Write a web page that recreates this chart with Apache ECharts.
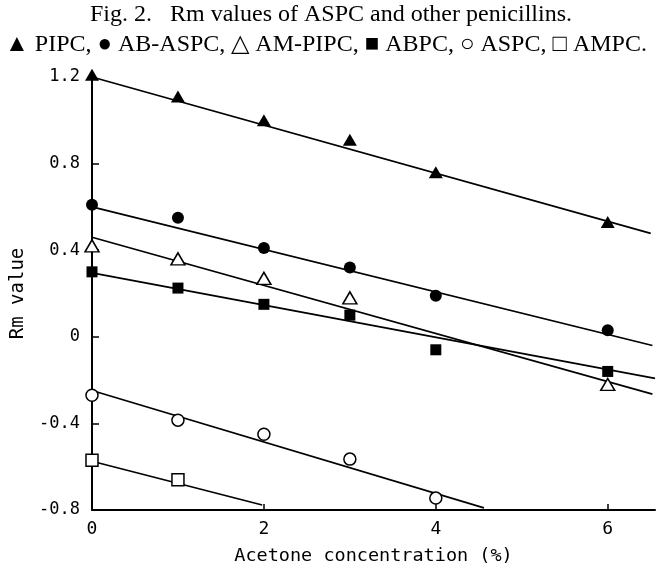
<!DOCTYPE html>
<html>
<head>
<meta charset="utf-8">
<script src="https://cdn.jsdelivr.net/npm/echarts@6/dist/echarts.min.js"></script>
<style>
	html, body { margin: 0; padding: 0; background: #fff; }
	#main { width: 656px; height: 571px; }
</style>
</head>
<body>
<div id="main"></div>
<script>
	// measured points (acetone %, Rm)
	var x_all = [0, 1, 2, 3, 4, 6];
	var pipc = [1.21, 1.11, 1.0, 0.91, 0.76, 0.53];
	var ab_aspc = [0.61, 0.55, 0.41, 0.32, 0.19, 0.03];
	var am_pipc_x = [0, 1, 2, 3, 6];
	var am_pipc = [0.42, 0.36, 0.27, 0.18, -0.22];
	var abpc = [0.30, 0.225, 0.15, 0.10, -0.06, -0.16];
	var aspc_x = [0, 1, 2, 3, 4];
	var aspc = [-0.27, -0.385, -0.45, -0.565, -0.745];
	var ampc_x = [0, 1];
	var ampc = [-0.57, -0.66];

	// fitted straight lines, end points
	var fit_pipc = [[0, 1.2], [6.5, 0.478]];
	var fit_ab_aspc = [[0, 0.60], [6.52, -0.04]];
	var fit_am_pipc = [[0, 0.46], [6.52, -0.265]];
	var fit_abpc = [[0, 0.295], [6.55, -0.192]];
	var fit_aspc = [[0, -0.248], [4.56, -0.79]];
	var fit_ampc = [[0, -0.575], [1.98, -0.777]];

	var x_ticks = [2, 4, 6];
	var x_labels = [0, 2, 4, 6];
	var y_ticks = [-0.4, 0, 0.4, 0.8];
	var y_labels = [-0.8, -0.4, 0, 0.4, 0.8, 1.2];

	function pairs(xs, ys) {
		var out = [];
		for (var i = 0; i < ys.length; i++) out.push([xs[i], ys[i]]);
		return out;
	}

	var TRI = 'path://M0,10 L5,0 L10,10 Z';

	function pts(name, data, symbol, size, filled) {
		return {
			name: name,
			type: 'scatter',
			data: data,
			symbol: symbol,
			symbolSize: size,
			clip: false,
			z: 5,
			itemStyle: {
				opacity: 1,
				color: filled ? '#000' : '#fff',
				borderColor: '#000',
				borderWidth: filled ? 0 : 1.5
			}
		};
	}

	function fit(data) {
		return {
			type: 'line',
			data: data,
			symbol: 'none',
			silent: true,
			z: 3,
			lineStyle: { color: '#000', width: 1.7 }
		};
	}

	var myChart = echarts.init(document.getElementById('main'));

	var option = {
		animation: false,
		backgroundColor: '#fff',
		title: [{
			text: 'Fig. 2.   Rm values of ASPC and other penicillins.',
			left: 326,
			top: -2,
			textAlign: 'center',
			textStyle: { fontFamily: 'Liberation Serif', fontSize: 24, fontWeight: 'normal', color: '#000' }
		}, {
			text: '▲ PIPC, ● AB-ASPC, △ AM-PIPC, ■ ABPC, ○ ASPC, □ AMPC.',
			left: 321,
			top: 28,
			textAlign: 'center',
			textStyle: { fontFamily: 'Liberation Serif', fontSize: 24, fontWeight: 'normal', color: '#000' }
		}],
		grid: { left: 92, right: 1, top: 77, bottom: 60 },
		xAxis: {
			type: 'value',
			min: 0,
			max: 6.55,
			interval: 2,
			name: 'Acetone concentration (%)',
			nameLocation: 'middle',
			nameGap: 37,
			nameTextStyle: { fontFamily: 'DejaVu Sans Mono', fontSize: 18.5, color: '#000' },
			splitLine: { show: false },
			axisLine: { onZero: false, lineStyle: { color: '#000', width: 2 } },
			axisTick: { inside: true, length: 6, customValues: x_ticks, lineStyle: { color: '#000', width: 1.5 } },
			axisLabel: { customValues: x_labels, margin: 10, fontFamily: 'DejaVu Sans Mono', fontSize: 18, color: '#000' }
		},
		yAxis: {
			type: 'value',
			min: -0.8,
			max: 1.2,
			interval: 0.4,
			name: 'Rm value',
			nameLocation: 'middle',
			nameGap: 64,
			nameTextStyle: { fontFamily: 'DejaVu Sans Mono', fontSize: 19, color: '#000' },
			splitLine: { show: false },
			axisLine: { onZero: false, lineStyle: { color: '#000', width: 2 } },
			axisTick: { inside: true, length: 7, customValues: y_ticks, lineStyle: { color: '#000', width: 1.5 } },
			axisLabel: {
				customValues: y_labels,
				margin: 12,
				fontFamily: 'DejaVu Sans Mono',
				fontSize: 17,
				color: '#000',
				formatter: function (v) { return v === 0 ? '0' : v.toFixed(1); }
			}
		},
		series: [
			fit(fit_pipc), fit(fit_ab_aspc), fit(fit_am_pipc),
			fit(fit_abpc), fit(fit_aspc), fit(fit_ampc),
			pts('PIPC', pairs(x_all, pipc), TRI, [14, 12], true),
			pts('AB-ASPC', pairs(x_all, ab_aspc), 'circle', 12, true),
			pts('AM-PIPC', pairs(am_pipc_x, am_pipc), TRI, [14, 12], false),
			pts('ABPC', pairs(x_all, abpc), 'rect', 11, true),
			pts('ASPC', pairs(aspc_x, aspc), 'circle', 12, false),
			pts('AMPC', pairs(ampc_x, ampc), 'rect', 12, false)
		]
	};

	myChart.setOption(option);
</script>
</body>
</html>
